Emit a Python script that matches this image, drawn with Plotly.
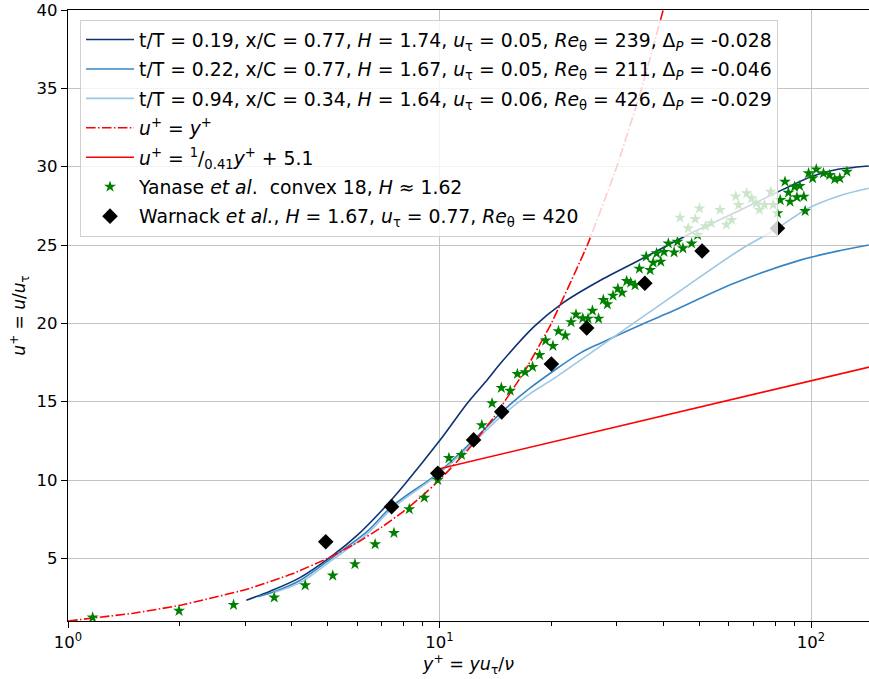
import plotly.graph_objects as go

# ---------------- data ----------------
yp_019 = [3.02, 3.5, 4.2, 5.18, 6.0, 7.0, 8.0, 10.0, 11.88, 13.45, 14.6, 17.96,
          21.4, 27.2, 36.3, 47.5, 63.1, 84.1, 100.3, 115.6, 143]
up_019 = [2.33, 2.9, 3.75, 5.22, 6.46, 8.07, 9.64, 12.5, 14.9, 16.4, 17.45, 19.79,
          21.28, 22.77, 24.3, 25.75, 27.12, 28.55, 29.38, 29.79, 30.04]

yp_022 = [3.25, 3.6, 4.22, 5.18, 6.38, 7.43, 9.9, 12.36, 14.7, 17.5, 23.9, 27.2, 35.0, 41.1,
          62.1, 94.0, 120, 143]
up_022 = [2.55, 2.88, 3.6, 5.1, 6.7, 8.3, 10.43, 12.56, 14.33, 15.86, 18.1, 18.75, 19.93, 20.64,
          22.56, 24.05, 24.65, 25.0]

yp_094 = [3.57, 4.22, 5.18, 6.38, 7.43, 9.9, 12.36, 14.7, 17.5, 20.0, 28.3, 41.0,
          64.0, 81.2, 97.4, 120, 143]
up_094 = [2.8, 3.45, 4.95, 6.55, 8.15, 10.35, 12.4, 14.1, 15.5, 16.37, 18.85, 21.5,
          24.65, 26.07, 27.3, 28.16, 28.62]

yp_visc = [1, 1.5, 2, 3, 4, 5, 6, 7, 8, 9, 10, 12, 14, 17, 20, 25, 30, 35, 40]
up_visc = [1, 1.5, 2, 3, 4, 5, 6, 7, 8, 9, 10, 12, 14, 17, 20, 25, 30, 35, 40]

yp_log = [10, 20, 50, 100, 150]
up_log = [10.72, 12.41, 14.64, 16.33, 17.32]

yp_yanase = [1.165, 1.99, 2.79, 3.59, 4.35, 5.16, 5.92, 6.71, 7.54, 8.29, 9.1, 9.89, 10.6,
             11.46, 13.0, 13.85, 14.67, 15.5, 16.2, 17.0, 17.8, 18.6, 19.3, 20.2, 20.9, 21.8,
             22.6, 23.3, 24.3, 25.1, 25.8, 26.8, 27.6, 28.3, 29.3, 30.2, 31.0, 31.9, 32.7,
             33.6, 34.5, 36.0, 36.9, 37.6, 38.4, 39.4, 40.2, 41.3, 42.8, 43.7, 45.2, 47.7,
             49.5, 44.4, 46.7, 48.8, 50.1, 52.0, 53.9, 56.9, 59.2, 61.1, 62.7, 63.8, 67.1,
             69.2, 71.2, 72.6, 74.9, 77.9, 79.1, 81.2, 82.6, 85.1, 86.9, 87.8, 90.3, 91.6,
             93.2, 95.6, 96.4, 98.5, 101.0, 103.3, 108.0, 112.3, 115.8, 119.5, 124.9]
up_yanase = [1.22, 1.65, 2.03, 2.5, 3.28, 3.9, 4.63, 5.9, 6.62, 8.14, 8.87, 10.0, 11.4,
             11.6, 13.5, 14.9, 15.88, 15.7, 16.77, 16.88, 17.22, 17.98, 18.9, 18.56, 19.5,
             19.22, 20.08, 20.56, 20.32, 20.3, 20.81, 20.3, 21.5, 21.22, 21.77, 22.21, 21.96,
             22.7, 22.6, 22.43, 23.49, 24.26, 23.4, 23.87, 24.47, 23.94, 24.56, 25.1, 24.53,
             25.21, 24.79, 25.1, 25.64, 26.75, 26.07, 26.66, 27.34, 26.2, 26.39, 27.24, 26.3,
             26.6, 28.1, 27.55, 28.3, 27.98, 27.66, 27.24, 27.56, 28.4, 27.56, 27.03, 27.87,
             29.04, 28.34, 27.77, 28.72, 28.05, 28.77, 28.09, 27.17, 29.58, 29.26, 29.83,
             29.58, 29.47, 29.2, 29.26, 29.68]

yp_warnack = [4.94, 7.43, 9.89, 12.35, 14.7, 20.0, 24.9, 35.7, 50.9, 81.2]
up_warnack = [6.06, 8.3, 10.43, 12.56, 14.35, 17.4, 19.7, 22.56, 24.62, 26.07]

x_tickvals = [1, 10, 100]
x_ticktext = ["10<sup>0</sup>", "10<sup>1</sup>", "10<sup>2</sup>"]
x_minor = [2, 3, 4, 5, 6, 7, 8, 9, 20, 30, 40, 50, 60, 70, 80, 90]
y_tickvals = [5, 10, 15, 20, 25, 30, 35, 40]

names = [
    "t/T = 0.19, x/C = 0.77, <i>H</i> = 1.74, <i>u</i><sub>τ</sub> = 0.05, <i>Re</i><sub>θ</sub> = 239, Δ<sub><i>P</i></sub> = -0.028",
    "t/T = 0.22, x/C = 0.77, <i>H</i> = 1.67, <i>u</i><sub>τ</sub> = 0.05, <i>Re</i><sub>θ</sub> = 211, Δ<sub><i>P</i></sub> = -0.046",
    "t/T = 0.94, x/C = 0.34, <i>H</i> = 1.64, <i>u</i><sub>τ</sub> = 0.06, <i>Re</i><sub>θ</sub> = 426, Δ<sub><i>P</i></sub> = -0.029",
    "<i>u</i><sup>+</sup> = <i>y</i><sup>+</sup>",
    "<i>u</i><sup>+</sup> = <sup>1</sup>/<sub>0.41</sub><i>y</i><sup>+</sup> + 5.1",
    "Yanase <i>et al</i>.  convex 18, <i>H</i> ≈ 1.62",
    "Warnack <i>et al.</i>, <i>H</i> = 1.67, <i>u</i><sub>τ</sub> = 0.77, <i>Re</i><sub>θ</sub> = 420",
]

fig = go.Figure()
line_sets = [(yp_019, up_019, "#0b3372"), (yp_022, up_022, "#3784c2"), (yp_094, up_094, "#9cc7e4")]
for i, (xs, ys, c) in enumerate(line_sets):
    fig.add_trace(go.Scatter(x=xs, y=ys, mode="lines", name=names[i], legendgroup=f"g{i}",
                             line=dict(color=c, width=1.6, shape="spline", smoothing=0.8)))
fig.add_trace(go.Scatter(x=yp_visc, y=up_visc, mode="lines", name=names[3], legendgroup="g3",
                         line=dict(color="red", width=1.6, dash="9.6px,2.4px,1.5px,2.4px", shape="spline", smoothing=0.4)))
fig.add_trace(go.Scatter(x=yp_log, y=up_log, mode="lines", name=names[4], legendgroup="g4",
                         line=dict(color="red", width=1.6)))
fig.add_trace(go.Scatter(x=yp_yanase, y=up_yanase, mode="markers", name=names[5], legendgroup="g5",
                         marker=dict(symbol="star", size=9, color="green", line=dict(width=0))))
fig.add_trace(go.Scatter(x=yp_warnack, y=up_warnack, mode="markers", name=names[6], legendgroup="g6",
                         marker=dict(symbol="diamond", size=12, color="black", line=dict(width=0))))

fig.update_layout(
    width=869, height=679,
    margin=dict(l=68, r=0, t=10, b=58, autoexpand=False),
    plot_bgcolor="white", paper_bgcolor="white",
    font=dict(family="DejaVu Sans", size=16, color="black"),
    showlegend=True,
    legend=dict(x=0.015, y=0.984, xanchor="left", yanchor="top",
                bgcolor="rgba(255,255,255,0.8)", bordercolor="#d0d0d0", borderwidth=1,
                font=dict(family="DejaVu Sans", size=18.8, color="black"),
                traceorder="grouped", tracegroupgap=2, itemwidth=48),
    xaxis=dict(type="log", range=[0, 2.156], tickvals=x_tickvals, ticktext=x_ticktext,
               ticks="outside", ticklen=6, tickcolor="black", showline=True, linecolor="black",
               linewidth=1.2, mirror=True, showgrid=True, gridcolor="#c4c4c4", gridwidth=1,
               zeroline=False, tickfont=dict(size=16.5), automargin=False,
               minor=dict(tickvals=x_minor, ticks="outside", ticklen=3.5, tickcolor="black", showgrid=False),
               title=dict(text="<i>y</i><sup>+</sup> = <i>yu</i><sub>τ</sub>/<i>ν</i>", font=dict(size=17.5), standoff=2)),
    yaxis=dict(range=[1, 40], tickvals=y_tickvals, ticks="outside", ticklen=6, tickcolor="black",
               showline=True, linecolor="black", linewidth=1.2, mirror=False, automargin=False,
               ticklabeloverflow="allow",
               showgrid=True, gridcolor="#c4c4c4", gridwidth=1, zeroline=False, tickfont=dict(size=16.5),
               title=dict(text="<i>u</i><sup>+</sup> = <i>u</i>/<i>u</i><sub>τ</sub>", font=dict(size=17), standoff=6)),
)

# remove the default 8px page margin so the figure sits at the window's top-left corner
fig.write_html("out.html", config={"displayModeBar": False},
               post_script=["document.body.style.margin='0px';"])
